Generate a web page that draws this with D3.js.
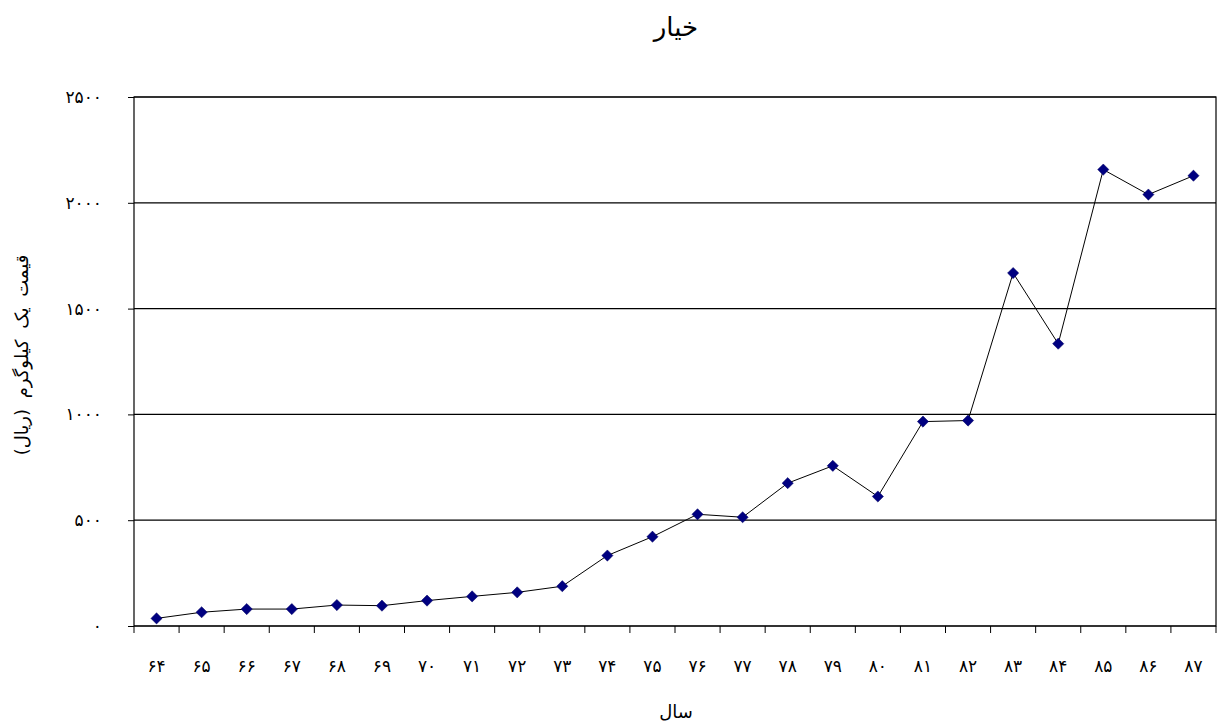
<!DOCTYPE html>
<html>
<head>
<meta charset="utf-8">
<script src="https://cdn.jsdelivr.net/npm/d3@7"></script>
<style>
    body { margin: 0; background: #fff; }
    text { font-family: "DejaVu Sans", "Noto Sans", sans-serif; }
</style>
</head>
<body>
<svg id="Target" width="1219" height="727"></svg>
<script>
// years (Persian calendar), shown with Persian digits
const years = ["۶۴", "۶۵", "۶۶", "۶۷", "۶۸", "۶۹", "۷۰", "۷۱", "۷۲", "۷۳", "۷۴", "۷۵",
    "۷۶", "۷۷", "۷۸", "۷۹", "۸۰", "۸۱", "۸۲", "۸۳", "۸۴", "۸۵", "۸۶", "۸۷"];
// price of one kilogram (rial)
const prices = [36, 65, 80, 80, 99, 96, 120, 140, 159, 188, 333, 422,
    528, 514, 675, 757, 612, 966, 971, 1668, 1334, 2157, 2039, 2128];
const yTicks = [0, 500, 1000, 1500, 2000, 2500];
const yTickLabels = ["٠", "۵٠٠", "۱٠٠٠", "۱۵٠٠", "۲٠٠٠", "۲۵٠٠"];

const title = "خیار";
const xTitle = "سال";
const yTitle = "قیمت یک کیلوگرم (ریال)";

const margin = { left: 134, right: 3, top: 97, bottom: 101 };
const width = 1219, height = 727;

const svg = d3.select("#Target");

const x = d3.scaleBand()
    .domain(years)
    .range([margin.left, width - margin.right]);

const y = d3.scaleLinear()
    .domain([0, 2500])
    .range([height - margin.bottom, margin.top]);

// grid lines
svg.append("g")
    .selectAll("line")
    .data(yTicks)
    .enter()
    .append("line")
    .attr("x1", margin.left)
    .attr("x2", width - margin.right)
    .attr("y1", d => y(d))
    .attr("y2", d => y(d))
    .attr("stroke", "#000")
    .attr("stroke-width", 1.2);

// plot frame
svg.append("rect")
    .attr("x", margin.left)
    .attr("y", margin.top)
    .attr("width", width - margin.left - margin.right)
    .attr("height", height - margin.top - margin.bottom)
    .attr("fill", "none")
    .attr("stroke", "#000")
    .attr("stroke-width", 1.2);

// y axis
const yAxis = svg.append("g")
    .attr("transform", `translate(${margin.left},0)`)
    .call(d3.axisLeft(y)
        .tickValues(yTicks)
        .tickSize(6)
        .tickPadding(26)
        .tickFormat((d, i) => yTickLabels[i]));
yAxis.select(".domain").remove();
yAxis.selectAll("line").attr("stroke", "#000");
yAxis.selectAll("text")
    .attr("font-size", 17)
    .attr("letter-spacing", 4)
    .attr("fill", "#000");

// x axis: ticks on category boundaries
const xBoundaries = years.map(d => x(d)).concat([x.range()[1]]);
svg.append("g")
    .selectAll("line")
    .data(xBoundaries)
    .enter()
    .append("line")
    .attr("x1", d => d)
    .attr("x2", d => d)
    .attr("y1", y(0))
    .attr("y2", y(0) + 7)
    .attr("stroke", "#000");

svg.append("g")
    .selectAll("text")
    .data(years)
    .enter()
    .append("text")
    .attr("x", d => x(d) + x.bandwidth() / 2)
    .attr("y", y(0) + 46)
    .attr("text-anchor", "middle")
    .attr("font-size", 17)
    .attr("letter-spacing", 4)
    .text(d => d);

// line
const line = d3.line()
    .x((d, i) => x(years[i]) + x.bandwidth() / 2)
    .y(d => y(d));

svg.append("path")
    .datum(prices)
    .attr("d", line)
    .attr("fill", "none")
    .attr("stroke", "#000")
    .attr("stroke-width", 1);

// diamond markers
svg.append("g")
    .selectAll("path")
    .data(prices)
    .enter()
    .append("path")
    .attr("d", d3.symbol().type(d3.symbolDiamond2).size(80))
    .attr("transform", (d, i) => `translate(${x(years[i]) + x.bandwidth() / 2},${y(d)})`)
    .attr("fill", "#000080")
    .attr("stroke", "#000060")
    .attr("stroke-width", 0.5);

// titles
svg.append("text")
    .attr("x", 676)
    .attr("y", 36)
    .attr("text-anchor", "middle")
    .attr("font-size", 26)
    .text(title);

svg.append("text")
    .attr("x", 676)
    .attr("y", 718)
    .attr("text-anchor", "middle")
    .attr("font-size", 18)
    .text(xTitle);

svg.append("text")
    .attr("transform", "translate(28,355) rotate(-90)")
    .attr("text-anchor", "middle")
    .attr("font-size", 18)
    .attr("word-spacing", 5)
    .text(yTitle);
</script>
</body>
</html>
